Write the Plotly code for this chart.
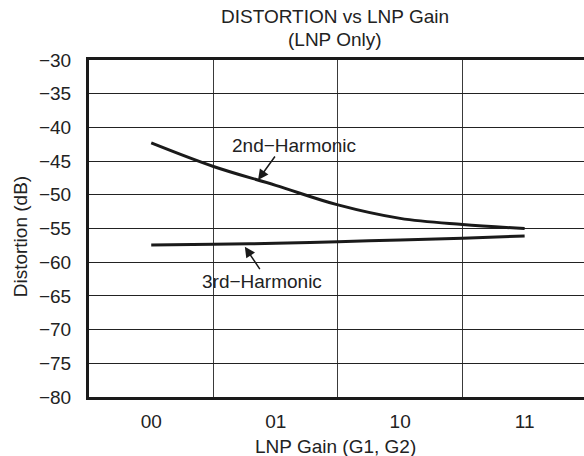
"""
Distortion vs LNP gain chart (LNP only).
"""
import plotly.graph_objects as go

# LNP gain settings (G1, G2) shown on the x axis
gain_labels = ["00", "01", "10", "11"]
gain_pos = [0, 1, 2, 3]

# curve positions, in gain-setting units
curve_x = [0, 0.5, 1, 1.5, 2, 2.5, 3]
second_harmonic = [-42.3, -45.8, -48.6, -51.5, -53.5, -54.4, -55.0]
third_harmonic = [-57.45, -57.35, -57.2, -56.95, -56.7, -56.45, -56.1]

y_ticks = [-30, -35, -40, -45, -50, -55, -60, -65, -70, -75, -80]

FONT = "Liberation Sans, Arial, Helvetica, sans-serif"
TEXT = "#222222"
FS = 19


def distortion_chart():
    ''' Distortion vs LNP Gain '''
    fig = go.Figure()

    fig.add_trace(go.Scatter(
        x=curve_x, y=second_harmonic, mode="lines",
        line=dict(color="#1a1a1a", width=3, shape="spline"),
        name="2nd-Harmonic", showlegend=False
    ))
    fig.add_trace(go.Scatter(
        x=curve_x, y=third_harmonic, mode="lines",
        line=dict(color="#1a1a1a", width=3, shape="spline"),
        name="3rd-Harmonic", showlegend=False
    ))

    # plot runs to the right edge of the picture, as in the reference
    fig.update_xaxes(
        range=[-0.5, 3.477],
        tickvals=gain_pos,
        ticktext=gain_labels,
        showgrid=False,
        zeroline=False,
        showline=True,
        linecolor="#1a1a1a",
        linewidth=3,
        mirror=True,
        ticks="",
        ticklabelstandoff=5,
        automargin=False,
        tickfont=dict(size=FS, color=TEXT),
        minor=dict(tickvals=[0.5, 1.5, 2.5], showgrid=True,
                   gridcolor="#3a3a3a", gridwidth=1),
    )

    fig.update_yaxes(
        range=[-80, -30],
        tickvals=y_ticks,
        showgrid=True,
        gridcolor="#222222",
        gridwidth=1,
        zeroline=False,
        showline=True,
        linecolor="#1a1a1a",
        linewidth=3,
        ticks="",
        ticklabelstandoff=11,
        automargin=False,
        tickfont=dict(size=FS, color=TEXT),
    )

    notes = [
        dict(text="DISTORTION vs LNP Gain", xref="paper", yref="paper",
             x=0.497, y=1, yshift=44),
        dict(text="(LNP Only)", xref="paper", yref="paper",
             x=0.497, y=1, yshift=21),
        dict(text="LNP Gain (G1, G2)", xref="paper", yref="paper",
             x=0.4975, y=0, yshift=-49),
        dict(text="Distortion (dB)", xref="paper", yref="paper",
             x=-0.138, y=0.476, textangle=-90),
        dict(text="2nd\u2212Harmonic", x=1.144, y=-42.7),
        dict(text="3rd\u2212Harmonic", x=0.888, y=-62.9),
    ]
    for n in notes:
        fig.add_annotation(**n, xanchor="center", yanchor="middle",
                           showarrow=False,
                           font=dict(size=FS, color=TEXT, family=FONT))

    # pointer arrows to the two curves
    arrows = [
        dict(x=0.858, y=-47.8, ax=18, ay=-25),
        dict(x=0.752, y=-57.7, ax=16, ay=24),
    ]
    for a in arrows:
        fig.add_annotation(**a, text="", showarrow=True, arrowhead=2,
                           arrowsize=1.4, arrowwidth=1.5, arrowcolor="#1a1a1a")

    fig.update_layout(
        width=584,
        height=456,
        margin=dict(l=89, r=0, t=60, b=59),
        paper_bgcolor="white",
        plot_bgcolor="white",
        font=dict(family=FONT, size=FS, color=TEXT),
    )

    return fig


fig = distortion_chart()
# drop the page's default body margin so the figure fills the window
fig.write_html(
    "out.html",
    config={"displayModeBar": False},
    post_script="document.body.style.margin='0';"
                "document.body.style.overflow='hidden';"
)
